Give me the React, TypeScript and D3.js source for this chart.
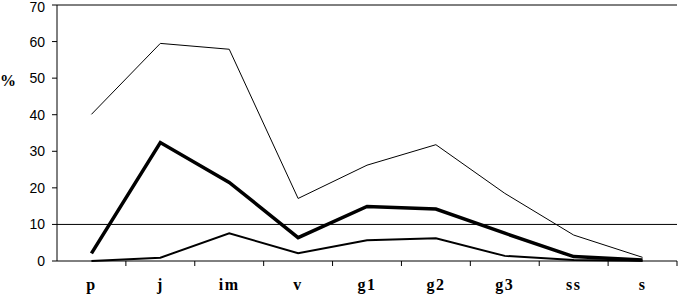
import React from 'react';
import * as d3 from 'd3';

const categories = ['p', 'j', 'im', 'v', 'g1', 'g2', 'g3', 'ss', 's'];
const seriesTop = [40.1, 59.5, 57.9, 17.1, 26.2, 31.8, 18.5, 7.1, 1.0];
const seriesMid = [2.1, 32.4, 21.5, 6.4, 14.9, 14.2, 7.6, 1.2, 0.3];
const seriesLow = [0, 0.9, 7.6, 2.1, 5.7, 6.2, 1.4, 0.3, 0.1];
const yTicks = [0, 10, 20, 30, 40, 50, 60, 70];
const gridValues = [10, 70];

const width = 679;
const height = 295;
const margin = { left: 57, right: 2, top: 5, bottom: 34 };

export default function App() {
  const x = d3
    .scaleBand<string>()
    .domain(categories)
    .range([margin.left, width - margin.right]);
  const y = d3
    .scaleLinear()
    .domain([0, 70])
    .range([height - margin.bottom, margin.top]);

  const cx = (c: string) => (x(c) ?? 0) + x.bandwidth() / 2;
  const line = d3
    .line<number>()
    .x((_, i) => cx(categories[i]))
    .y((d) => y(d));

  const series = [
    { values: seriesTop, w: 1 },
    { values: seriesLow, w: 2 },
    { values: seriesMid, w: 3.5 },
  ];

  // boundaries between categories for the x tick marks
  const bounds = categories.map((c) => (x(c) ?? 0) + x.bandwidth());

  return (
    <svg
      width={width}
      height={height}
      style={{ position: 'absolute', left: 0, top: 0, background: '#fff' }}
    >
      {gridValues.map((g) => (
        <line
          key={g}
          x1={margin.left}
          x2={width - margin.right}
          y1={y(g)}
          y2={y(g)}
          stroke="#000"
          strokeWidth={1}
        />
      ))}

      {/* y axis */}
      <line x1={margin.left} x2={margin.left} y1={y(70)} y2={y(0)} stroke="#000" />
      {yTicks.map((t) => (
        <g key={t}>
          <line x1={margin.left - 5} x2={margin.left} y1={y(t)} y2={y(t)} stroke="#000" />
          <text
            x={45}
            y={Math.max(y(t), 7)}
            dy="0.36em"
            textAnchor="end"
            fontFamily="Liberation Sans, Arial, sans-serif"
            fontSize={14}
            fill="#000"
          >
            {t}
          </text>
        </g>
      ))}
      <text
        x={0}
        y={80}
        dy="0.36em"
        fontFamily="Liberation Serif, Times New Roman, serif"
        fontWeight="bold"
        fontSize={16}
        fill="#000"
      >
        %
      </text>

      {/* x axis */}
      <line
        x1={margin.left}
        x2={width - margin.right}
        y1={y(0)}
        y2={y(0)}
        stroke="#000"
      />
      {bounds.map((b, i) => (
        <line key={i} x1={b} x2={b} y1={y(0)} y2={y(0) + 5} stroke="#000" />
      ))}
      {categories.map((c) => (
        <text
          key={c}
          x={cx(c)}
          y={290}
          textAnchor="middle"
          fontFamily="Liberation Serif, Times New Roman, serif"
          fontWeight="bold"
          fontSize={16}
          letterSpacing={1.5}
          fill="#000"
        >
          {c}
        </text>
      ))}

      {series.map((s, i) => (
        <path
          key={i}
          d={line(s.values) ?? ''}
          fill="none"
          stroke="#000"
          strokeWidth={s.w}
          strokeLinejoin="miter"
        />
      ))}
    </svg>
  );
}
